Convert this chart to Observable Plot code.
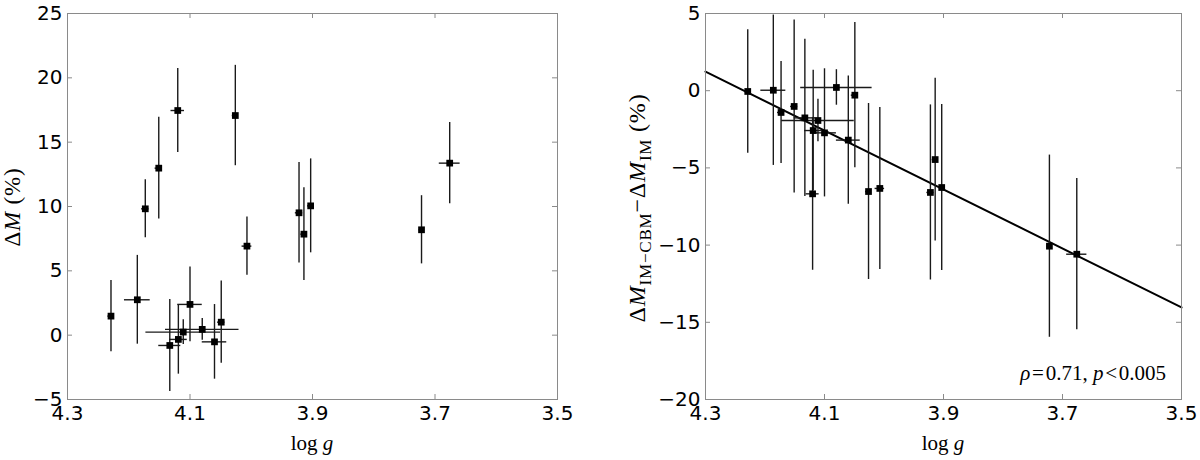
<!DOCTYPE html>
<html><head><meta charset="utf-8">
<script src="https://cdn.jsdelivr.net/npm/d3@7"></script>
<script src="https://cdn.jsdelivr.net/npm/@observablehq/plot@0.6"></script>
<style>
body{margin:0;background:#fff;}
#wrap{position:relative;width:1200px;height:460px;overflow:hidden;}
#left,#right{position:absolute;top:0;}
#left{left:0}
#right{left:600px}
</style></head><body>
<div id="wrap"><div id="left"></div><div id="right"></div></div>
<script>
// --- data ---
const logg      = [4.229, 4.186, 4.173, 4.151, 4.133, 4.120, 4.119, 4.111, 4.100, 4.080, 4.060, 4.049, 4.026, 4.007, 3.922, 3.914, 3.903, 3.722, 3.676];
const loggErr   = [0.005, 0.021, 0.006, 0.006, 0.018, 0.011, 0.0145, 0.061, 0.020, 0.060, 0.020, 0.006, 0.005, 0.008, 0.006, 0.005, 0.005, 0.004, 0.017];
const deltaM    = [1.48, 2.75, 9.82, 12.98, -0.80, 17.46, -0.33, 0.24, 2.39, 0.45, -0.52, 1.01, 17.07, 6.92, 9.51, 7.85, 10.05, 8.19, 13.37];
const deltaMErr = [2.77, 3.45, 2.25, 3.95, 3.57, 3.27, 2.70, 0.96, 2.90, 0.85, 2.90, 3.20, 3.90, 2.27, 3.90, 3.60, 3.65, 2.65, 3.15];
const deltaDiff    = [-0.05, 0.03, -1.41, -1.02, -1.76, -6.68, -2.58, -1.93, -2.73, 0.21, -3.20, -0.29, -6.53, -6.33, -6.59, -4.46, -6.27, -10.07, -10.59];
const deltaDiffErr = [4.00, 4.87, 3.30, 5.60, 5.10, 4.95, 3.90, 1.37, 4.15, 1.15, 4.15, 4.70, 5.70, 5.25, 5.67, 5.27, 5.37, 5.90, 4.90];
const xDomain = [4.3, 3.5];
const xTicks = [4.3, 4.1, 3.9, 3.7, 3.5];
const leftYDomain = [-5, 25];
const leftYTicks = [-5, 0, 5, 10, 15, 20, 25];
const rightYDomain = [-20, 5];
const rightYTicks = [-20, -15, -10, -5, 0, 5];
const fitSlope = 19.1;       // linear fit: y = fitIntercept + fitSlope * log g
const fitIntercept = -80.89;

const idx = d3.range(logg.length);
const H = 460, MT = 13, MB = 61;
const frameColor = "#8a8a8a";

function panel({y, yErr, yDomain, yTicks, marginLeft, marginRight, extra = []}) {
  const W = 600;
  const fw = W - marginLeft - marginRight;
  const fh = H - MT - MB;
  const tl = 5;
  return Plot.plot({
    width: W, height: H,
    marginLeft, marginRight, marginTop: MT, marginBottom: MB,
    style: {fontFamily: "'DejaVu Sans', sans-serif", fontSize: "20px", color: "#000", background: "#fff", overflow: "visible"},
    x: {domain: xDomain},
    y: {domain: yDomain},
    marks: [
      Plot.ruleX(xTicks, {x: d => d, stroke: frameColor, insetTop: fh - tl}),
      Plot.ruleX(xTicks, {x: d => d, stroke: frameColor, insetBottom: fh - tl}),
      Plot.ruleY(yTicks, {y: d => d, stroke: frameColor, insetRight: fw - tl}),
      Plot.ruleY(yTicks, {y: d => d, stroke: frameColor, insetLeft: fw - tl}),
      Plot.axisX(xTicks, {tickSize: 0, tickPadding: 6, tickFormat: d3.format(".1f"), label: null}),
      Plot.axisY(yTicks, {tickSize: 0, tickPadding: 5, tickFormat: d3.format("d"), label: null}),
      ...extra,
      Plot.ruleX(idx, {x: i => logg[i], y1: i => y[i] - yErr[i], y2: i => y[i] + yErr[i], stroke: "#1a1a1a", strokeWidth: 1.4}),
      Plot.ruleY(idx, {y: i => y[i], x1: i => logg[i] - loggErr[i], x2: i => logg[i] + loggErr[i], stroke: "#1a1a1a", strokeWidth: 1.4}),
      Plot.dot(idx, {x: i => logg[i], y: i => y[i], symbol: "square", fill: "#000", r: 3.8}),
      Plot.frame({stroke: frameColor})
    ]
  });
}

const left = panel({y: deltaM, yErr: deltaMErr, yDomain: leftYDomain, yTicks: leftYTicks, marginLeft: 67, marginRight: 43});
const right = panel({
  y: deltaDiff, yErr: deltaDiffErr, yDomain: rightYDomain, yTicks: rightYTicks, marginLeft: 105, marginRight: 19,
  extra: [Plot.line(xDomain, {x: d => d, y: d => fitIntercept + fitSlope * d, stroke: "#000", strokeWidth: 2})]
});
document.getElementById("left").appendChild(left);
document.getElementById("right").appendChild(right);

const serif = "'Liberation Serif', 'Times New Roman', serif";

function xLabel(svg, cx) {
  const t = d3.select(svg).append("text")
    .attr("x", cx).attr("y", 450).attr("text-anchor", "middle")
    .attr("font-family", serif).attr("font-size", 21).attr("fill", "#000");
  t.append("tspan").text("log ");
  t.append("tspan").attr("font-style", "italic").text("g");
}
xLabel(left, (67 + 557) / 2);
xLabel(right, (105 + 581) / 2);

// left y label
{
  const t = d3.select(left).append("text")
    .attr("transform", "translate(20,207) rotate(-90)")
    .attr("text-anchor", "middle")
    .attr("font-family", serif).attr("font-size", 23).attr("letter-spacing", 0.8).attr("fill", "#000");
  t.append("tspan").text("Δ");
  t.append("tspan").attr("font-style", "italic").text("M");
  t.append("tspan").text(" (%)");
}
// right y label
{
  const t = d3.select(right).append("text")
    .attr("transform", "translate(45,208) rotate(-90)")
    .attr("text-anchor", "middle")
    .attr("font-family", serif).attr("font-size", 24).attr("letter-spacing", 0.8).attr("fill", "#000");
  t.append("tspan").text("Δ");
  t.append("tspan").attr("font-style", "italic").text("M");
  t.append("tspan").attr("font-size", 17).attr("dy", 6).text("IM−CBM");
  t.append("tspan").attr("dy", -6).text("−Δ");
  t.append("tspan").attr("font-style", "italic").text("M");
  t.append("tspan").attr("font-size", 17).attr("dy", 6).text("IM");
  t.append("tspan").attr("dy", -6).text(" (%)");
}
// annotation
{
  const t = d3.select(right).append("text")
    .attr("x", 566).attr("y", 380).attr("text-anchor", "end")
    .attr("font-family", serif).attr("font-size", 21).attr("fill", "#000");
  t.append("tspan").attr("font-style", "italic").text("ρ");
  t.append("tspan").text("\u200a=\u200a0.71, ");
  t.append("tspan").attr("font-style", "italic").text("p");
  t.append("tspan").text("\u200a<\u200a0.005");
}
</script>
</body></html>
